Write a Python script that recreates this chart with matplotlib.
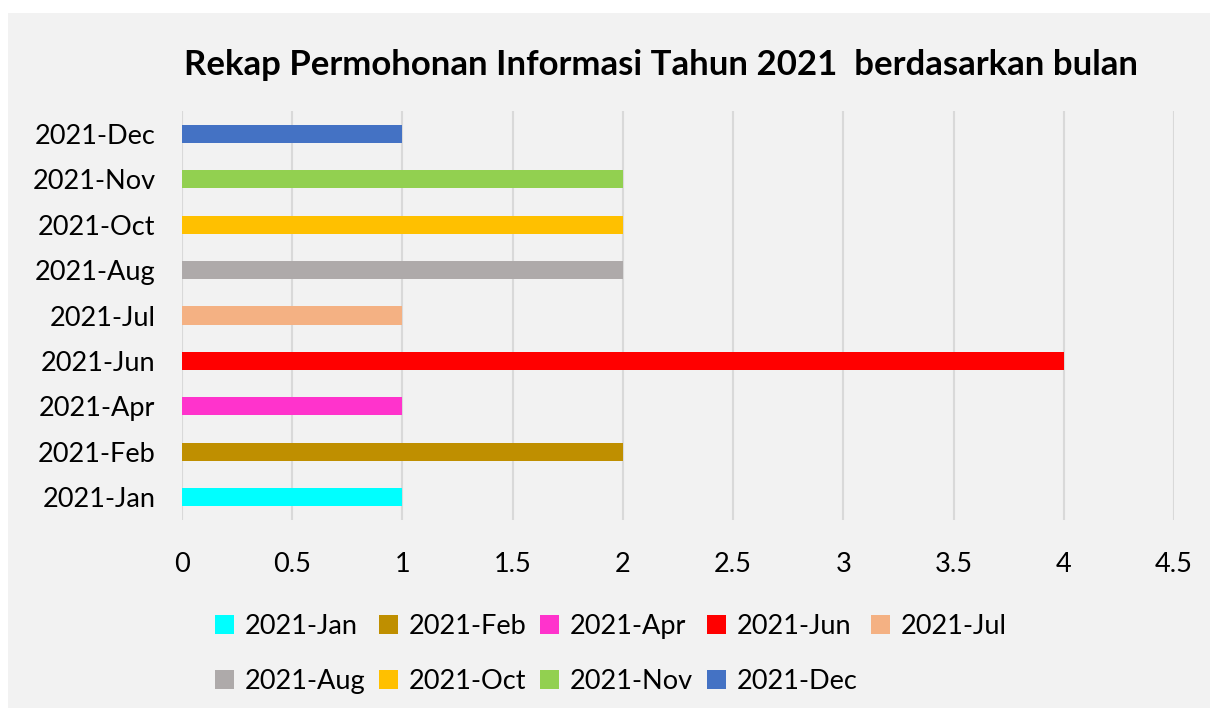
import matplotlib.pyplot as plt
import numpy as np
from matplotlib.patches import Patch, Rectangle

plt.rcParams['font.family'] = ['Lato', 'DejaVu Sans']

# data
months = ['2021-Jan', '2021-Feb', '2021-Apr', '2021-Jun', '2021-Jul',
          '2021-Aug', '2021-Oct', '2021-Nov', '2021-Dec']
counts = [1, 2, 1, 4, 1, 2, 2, 2, 1]
colors = ['#00ffff', '#bf8f00', '#ff33cc', '#ff0000', '#f4b183',
          '#aeaaaa', '#ffc000', '#92d050', '#4472c4']
xticks = np.arange(0, 5, 0.5)
xtick_labels = ['0', '0.5', '1', '1.5', '2', '2.5', '3', '3.5', '4', '4.5']

fig = plt.figure(figsize=(12.1, 7.08), dpi=100, facecolor='white')
# gray chart area, white strip on left and top
fig.patches.append(Rectangle((8 / 1210, 0), 1, 1 - 13 / 708, transform=fig.transFigure,
                             facecolor='#f2f2f2', edgecolor='none', zorder=-10))

ax = fig.add_axes([182 / 1210, 1 - 519.7 / 708, (1174 - 182) / 1210, (519.7 - 111.3) / 708])
ax.set_facecolor('none')

y = np.arange(len(months))
for i in range(len(months)):
    ax.barh(y[i], counts[i], height=0.4, color=colors[i], label=months[i], zorder=3)

ax.set_xlim(0, 4.5)
ax.set_ylim(-0.5, len(months) - 0.5)
ax.set_xticks(xticks)
ax.set_xticklabels(xtick_labels, fontsize=19.5)
ax.set_yticks(y)
ax.set_yticklabels(months, fontsize=19.5)
ax.tick_params(length=0)
ax.tick_params(axis='x', pad=23)
ax.tick_params(axis='y', pad=19)
ax.grid(True, axis='x', color='#d9d9d9', linewidth=1.5)
for s in ax.spines.values():
    s.set_visible(False)

fig.text(661 / 1210, 1 - 65 / 708, 'Rekap Permohonan Informasi Tahun 2021  berdasarkan bulan',
         ha='center', va='center', fontsize=25, fontweight='bold')

# legend in row order (two rows, five columns)
order = [0, 5, 1, 6, 2, 7, 3, 8, 4]
handles = [Patch(facecolor=colors[i], label=months[i]) for i in order]
fig.legend(handles=handles, ncol=5, loc='center', bbox_to_anchor=(611 / 1210, 1 - 654 / 708),
           frameon=False, fontsize=19.5, handlelength=0.7, handleheight=0.7,
           handletextpad=0.4, columnspacing=0.5, labelspacing=1.1)

plt.savefig('out.png', dpi=100, facecolor=fig.get_facecolor())
